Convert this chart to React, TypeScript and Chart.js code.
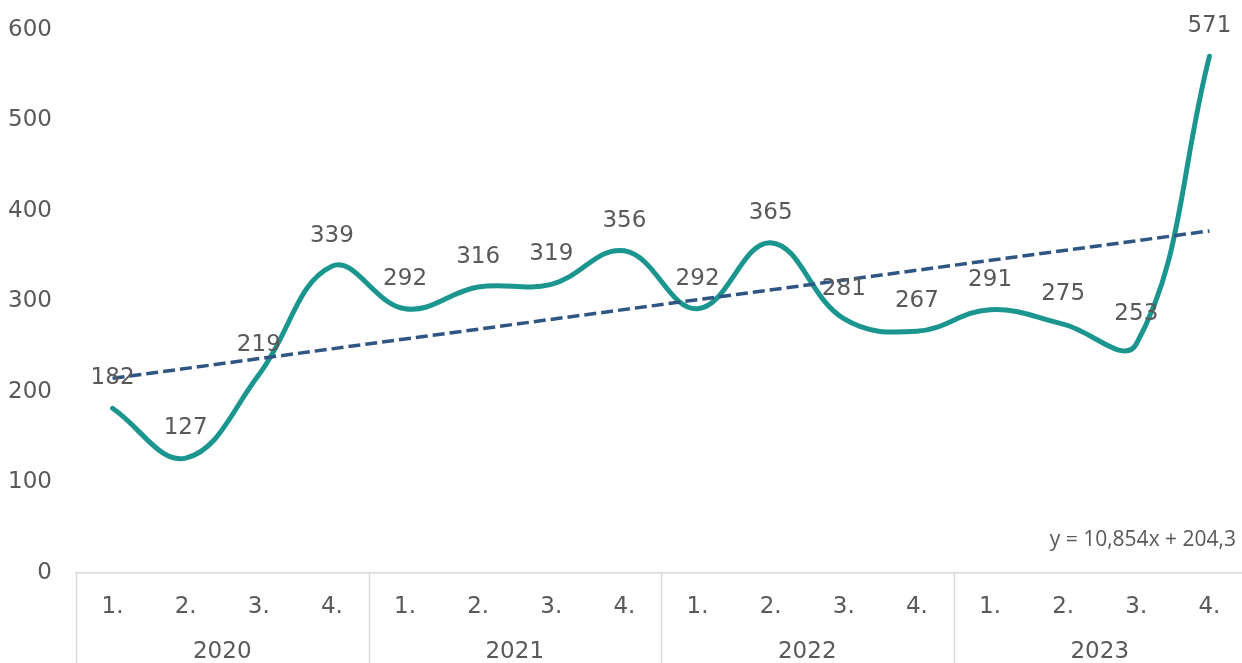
import React, { useEffect, useRef } from "react";
import { Chart, registerables } from "chart.js";

Chart.register(...registerables);

const quarters = ["1.", "2.", "3.", "4.", "1.", "2.", "3.", "4.", "1.", "2.", "3.", "4.", "1.", "2.", "3.", "4."];
const years = ["2020", "2021", "2022", "2023"];
const values = [182, 127, 219, 339, 292, 316, 319, 356, 292, 365, 281, 267, 291, 275, 253, 571];
const yTicks = [0, 100, 200, 300, 400, 500, 600];
const trendSlope = 10.854;
const trendIntercept = 204.3;
const trendLabel = "y = 10,854x + 204,3";

const TEXT = "#595959";
const FONT = "'DejaVu Sans', Verdana, sans-serif";
const FS = 23;

export default function App() {
  const ref = useRef<HTMLCanvasElement | null>(null);

  useEffect(() => {
    if (!ref.current) return;
    const n = values.length;
    const trend = values.map((_, i) =>
      i === 0 || i === n - 1 ? trendSlope * (i + 1) + trendIntercept : null
    );

    const overlay = {
      id: "overlay",
      afterDatasetsDraw(chart: any) {
        const ctx = chart.ctx;
        const meta = chart.getDatasetMeta(1);
        ctx.save();
        ctx.font = `${FS}px ${FONT}`;
        ctx.fillStyle = TEXT;
        ctx.textAlign = "center";
        ctx.textBaseline = "alphabetic";
        meta.data.forEach((pt: any, i: number) => {
          ctx.fillText(String(values[i]), pt.x, pt.y - 24);
        });
        ctx.restore();
      },
      afterDraw(chart: any) {
        const ctx = chart.ctx;
        const x = chart.scales.x;
        const area = chart.chartArea;
        ctx.save();
        ctx.strokeStyle = "#d9d9d9";
        ctx.lineWidth = 1.5;
        const per = quarters.length / years.length;
        const half = (x.getPixelForValue(1) - x.getPixelForValue(0)) / 2;
        for (let g = 0; g <= years.length; g++) {
          const idx = g * per;
          const px = Math.round(x.getPixelForValue(idx) - half) + 0.5;
          ctx.beginPath();
          ctx.moveTo(px, area.bottom);
          ctx.lineTo(px, chart.height);
          ctx.stroke();
        }
        ctx.font = `${FS}px ${FONT}`;
        ctx.fillStyle = TEXT;
        ctx.textAlign = "center";
        ctx.textBaseline = "middle";
        years.forEach((yr, g) => {
          const a = x.getPixelForValue(g * per) - half;
          const b = x.getPixelForValue(g * per + per - 1) + half;
          ctx.fillText(yr, (a + b) / 2, 652);
        });
        ctx.font = `21px 'Open Sans', 'Liberation Sans', sans-serif`;
        ctx.textAlign = "right";
        ctx.fillText(trendLabel, 1236, 540);
        ctx.restore();
      },
    };

    const chart = new Chart(ref.current, {
      type: "line",
      data: {
        labels: quarters,
        datasets: [
          {
            label: "Trend",
            data: trend,
            borderColor: "#2f5583",
            borderWidth: 3.5,
            borderDash: [12, 5],
            pointRadius: 0,
            tension: 0,
            spanGaps: true,
            fill: false,
            order: 0,
          },
          {
            label: "Values",
            data: values,
            borderColor: "#1b968f",
            borderWidth: 5,
            pointRadius: 0,
            tension: 0.4,
            fill: false,
            borderCapStyle: "round",
            order: 1,
          },
        ],
      },
      options: {
        animation: false,
        responsive: true,
        maintainAspectRatio: false,
        layout: { padding: { top: 30, right: 0, left: 0, bottom: 0 } },
        plugins: { legend: { display: false }, tooltip: { enabled: false } },
        scales: {
          x: {
            offset: true,
            grid: { display: false, drawTicks: false },
            border: { display: true, color: "#d9d9d9", width: 1.5 },
            ticks: {
              color: TEXT,
              font: { family: FONT, size: FS },
              padding: 20,
              maxRotation: 0,
              autoSkip: false,
            },
            afterFit(scale: any) {
              scale.height = 90;
            },
          },
          y: {
            min: 0,
            max: 600,
            afterBuildTicks(scale: any) {
              scale.ticks = yTicks.map((v) => ({ value: v }));
            },
            grid: { display: false, drawTicks: false },
            border: { display: false },
            ticks: {
              color: TEXT,
              font: { family: FONT, size: FS },
              padding: 24,
            },
            afterFit(scale: any) {
              scale.width = 76;
              scale.paddingTop = 10;
              scale.paddingBottom = 10;
            },
          },
        },
      },
      plugins: [overlay],
    });
    return () => chart.destroy();
  }, []);

  return (
    <div style={{ position: "absolute", left: 0, top: 0, width: 1242, height: 663, overflow: "hidden", background: "#fff" }}>
      <div style={{ position: "absolute", left: 0, top: 0, width: 1246, height: 663 }}>
        <canvas ref={ref} />
      </div>
    </div>
  );
}
